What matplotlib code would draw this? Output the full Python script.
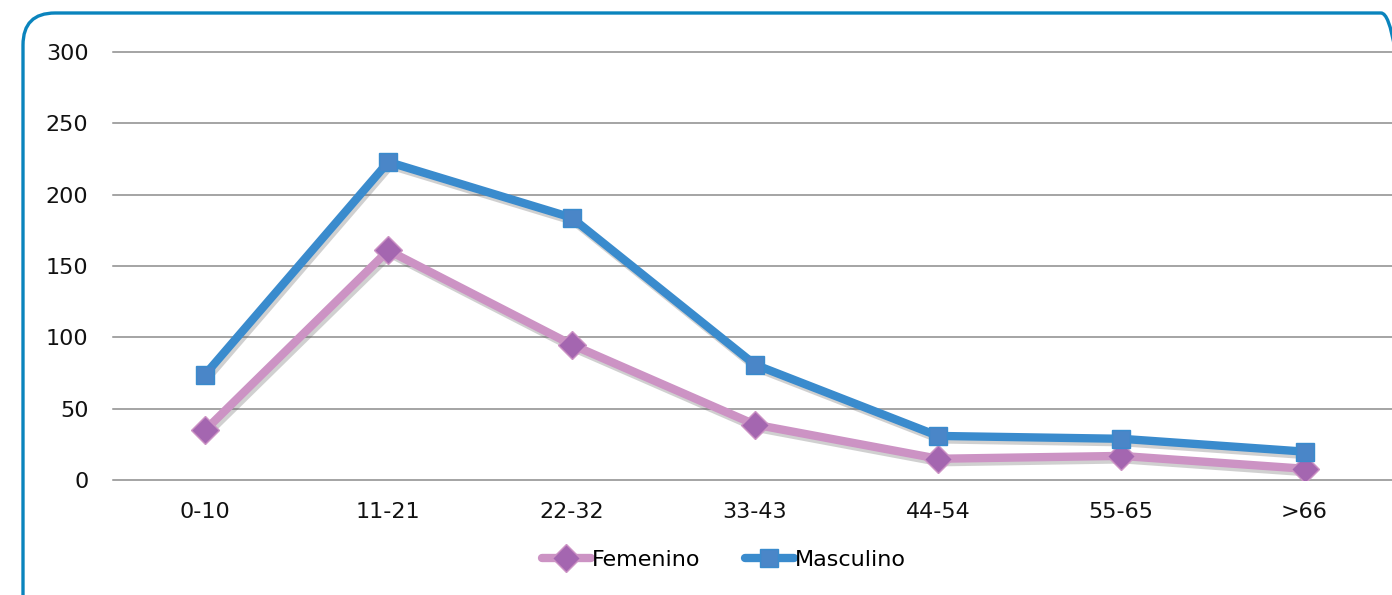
import matplotlib
matplotlib.use("Agg")
import matplotlib.pyplot as plt
import matplotlib.patheffects as pe
from matplotlib.patches import FancyBboxPatch
from matplotlib.lines import Line2D
from matplotlib.transforms import IdentityTransform

# --- data ---
categories = ["0-10", "11-21", "22-32", "33-43", "44-54", "55-65", ">66"]
femenino = [35, 161, 95, 39, 15, 17, 8]
masculino = [74, 223, 184, 81, 31, 29, 20]

plt.rcParams["font.family"] = ["DejaVu Sans"]

fig = plt.figure(figsize=(13.92, 5.95), dpi=100)
ax = fig.add_axes([0.0815, 0.193, 0.9215, 0.7195])

shadow = [pe.SimpleLineShadow(offset=(1.5, -2.5), shadow_color="#666666", alpha=0.3), pe.Normal()]

# (label, values, line colour, marker, marker size, marker face)
series = [
    ("Femenino", femenino, "#cc93c4", "D", 14, "#a466b0"),
    ("Masculino", masculino, "#3a8bcd", "s", 13, "#4a86c8"),
]

x = list(range(len(categories)))
handles = []
for i, (label, vals, col, mk, ms, mfc) in enumerate(series):
    ax.plot(x, vals, color=col, lw=6, path_effects=shadow, zorder=3 + i,
            solid_joinstyle="miter")
    ax.plot(x, vals, ls="none", marker=mk, ms=ms, mfc=mfc, mec=col, mew=1, zorder=3.5 + i)
    handles.append(Line2D([], [], color=col, lw=6, marker=mk, ms=ms, mfc=mfc, mec=col,
                          label=label, solid_capstyle="round"))

ax.set_xlim(-0.5, len(categories) - 0.5)
ax.set_ylim(0, 300)
ax.set_yticks(range(0, 301, 50))
ax.set_xticks(x)
ax.set_xticklabels(categories)
ax.grid(axis="y", color="#8c8c8c", lw=1.1)
for gl in ax.get_ygridlines():
    gl.set_clip_on(False)
ax.set_axisbelow(True)
for s in ax.spines.values():
    s.set_visible(False)
ax.tick_params(length=0, labelsize=16, colors="#111111")
ax.tick_params(axis="y", pad=18)
ax.tick_params(axis="x", pad=16)

fig.legend(handles=handles, loc="center", bbox_to_anchor=(0.52, 0.059), ncol=2, frameon=False,
           fontsize=16, handlelength=2.2, handletextpad=0.05, columnspacing=2.0)

# rounded blue frame (pixel coords, partly off-canvas)
frame = FancyBboxPatch((23, -40), 1390, 622, boxstyle="round,pad=0,rounding_size=32",
                       transform=IdentityTransform(), fill=False, ec="#0a84bd", lw=2.4)
fig.patches.append(frame)

fig.savefig("out.png", dpi=100)
